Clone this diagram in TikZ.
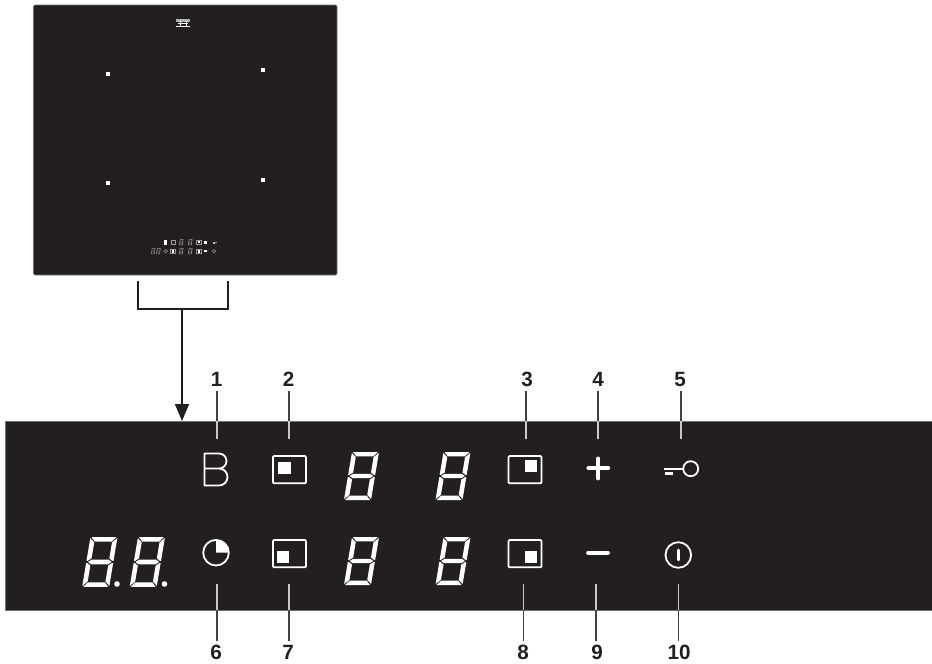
\documentclass[tikz,border=0pt]{standalone}
\usepackage{fontspec}
\setmainfont{Liberation Sans}
\usetikzlibrary{arrows.meta}
\definecolor{panelblack}{HTML}{231F20}
\definecolor{leadgray}{HTML}{C8C8C8}
\def\pxu{0.75pt}
\tikzset{
  panelbox/.style={rectangle,fill=panelblack,draw=black!55,line width=0.6pt,inner sep=0pt,outer sep=0pt},
  numlabel/.style={font=\fontsize{15.5pt}{15.5pt}\selectfont\bfseries,text=panelblack,inner sep=3pt,outer sep=0pt,anchor=base},
  leaderdark/.style={draw=panelblack!85,line width=0.9pt},
  leaderlight/.style={draw=leadgray,line width=0.9pt},
  iconline/.style={draw=white,line width=1.35pt},
  iconfill/.style={fill=white,draw=none},
  barcap/.style={draw=white,line width=2.8pt,line cap=round},
  minigray/.style={draw=white!60!black,line width=0.4pt},
  sevenseg/.pic={
    \path[pic actions] (1.0,0)--(26,0)--(22,4.4)--(5,4.4)--cycle;
    \path[pic actions] (0,1.0)--(4.6,5.2)--(4.6,20.5)--(1.0,23)--(0,23)--cycle;
    \path[pic actions] (27,1.0)--(22.4,5.2)--(22.4,20.5)--(26,23)--(27,23)--cycle;
    \path[pic actions] (1.6,24)--(5,21.8)--(22,21.8)--(25.4,24)--(22,26.2)--(5,26.2)--cycle;
    \path[pic actions] (0,25)--(1.0,25)--(4.6,27.5)--(4.6,42.8)--(0,47)--cycle;
    \path[pic actions] (27,25)--(26,25)--(22.4,27.5)--(22.4,42.8)--(27,47)--cycle;
    \path[pic actions] (5,43.6)--(22,43.6)--(26,48)--(1,48)--cycle;
  }
}
\begin{document}
\begin{tikzpicture}[x=0.75pt,y=-0.75pt]
\useasboundingbox (0,0) rectangle (932,664);
% panels
\node[panelbox,rounded corners=1pt,minimum width=303.5*\pxu,minimum height=270*\pxu] (hob) at (185.25,140) {};
\node[panelbox,minimum width=930*\pxu,minimum height=189*\pxu] (strip) at (470,515.75) {};
% hob zone marks
\foreach \x/\y in {108/74,263/70,108/183,263/180}
  \fill[white] (\x-2,\y-2) rectangle (\x+2,\y+2);
% logo
\fill[white!70!black] (176,18.5) rectangle (189.5,21.5);
\draw[white,line width=0.75pt] (178,23) -- (188,23);
\draw[white,line width=0.9pt] (176,26.5) -- (190,26.5);
\draw[white,line width=0.5pt] (180,21) -- (180,26) (186,21) -- (186,26);
% miniature controls on the hob
\fill[white] (163.5,240) rectangle (166.7,244.5);
\draw[minigray] (171,240.2) rectangle (175,244.2);
\foreach \x in {180,189}{
  \pic[fill=white!65!black,xslant=.167,scale=0.13] at (\x,239) {sevenseg};
  \pic[fill=white!65!black,xslant=.167,scale=0.13] at (\x,248) {sevenseg};
}
\draw[minigray] (196,240) rectangle (201,244.2);
\fill[white] (197.5,240.8) rectangle (199.8,243.2);
\fill[white] (204.2,240.6) rectangle (207.2,243.6);
\draw[minigray] (213,242.2) -- (217,242.2);
\fill[white!80!black] (213,243) rectangle (215,243.6);
\pic[fill=white!60!black,xslant=.167,scale=0.13] at (152,248) {sevenseg};
\pic[fill=white!60!black,xslant=.167,scale=0.13] at (157.2,248) {sevenseg};
\draw[minigray] (165.7,251.3) circle (1.8);
\draw[minigray] (170.5,249.2) rectangle (175,253.4);
\fill[white] (171.5,250) rectangle (173.8,252.6);
\draw[minigray] (196.5,249.2) rectangle (201,253.4);
\fill[white] (197.8,250) rectangle (200,252.6);
\fill[white] (204,250.4) rectangle (207.4,251.8);
\draw[minigray] (214,251.3) circle (1.8);
% bracket and arrow
\coordinate (brl) at (138,281);
\coordinate (brr) at (228,281);
\coordinate (stem) at (182,309);
\draw[draw=panelblack,line width=2.2pt] (brl) |- (stem) -| (brr);
\draw[draw=panelblack,line width=2.2pt,-{Triangle[length=12.8pt,width=10pt]}] (stem) -- (stem |- strip.north);
% labels
\foreach \nm/\t/\x in {l1/1/216.5,l2/2/288.5,l3/3/527,l4/4/598,l5/5/680}
  \node[numlabel] (\nm) at (\x,386.5) {\t};
\foreach \nm/\t/\x in {l6/6/216,l7/7/288,l8/8/523,l9/9/597,l10/10/679}
  \node[numlabel] (\nm) at (\x,659) {\t};
% leaders top
\foreach \nm/\x in {l1/217,l2/289,l3/526,l4/598,l5/681}{
  \coordinate (tip\nm) at (\x,439);
  \draw[leaderdark] (tip\nm |- \nm.south) -- (tip\nm |- strip.north);
  \draw[leaderlight] (tip\nm |- strip.north) -- (tip\nm);
}
% leaders bottom
\foreach \nm/\x in {l6/217,l7/289,l8/523.7,l9/596,l10/678.7}{
  \coordinate (tip\nm) at (\x,583.5);
  \draw[leaderlight] (tip\nm) -- (tip\nm |- strip.south);
  \draw[leaderdark] (tip\nm |- strip.south) -- (tip\nm |- \nm.north);
}
% B icon
\draw[iconline,line join=round] (204.5,468.5) -- (219,468.5) arc[start angle=90,end angle=-90,radius=7.5] -- (204.5,453.5) -- (204.5,485.5) -- (219,485.5) arc[start angle=90,end angle=-90,radius=8.5];
% zone buttons
\draw[iconline,rounded corners=0.8pt] (273,456) rectangle (306,483.3);
\fill[iconfill] (278,461.7) rectangle (291,473.7);
\draw[iconline,rounded corners=0.8pt] (273,540) rectangle (306,567.3);
\fill[iconfill] (277,551) rectangle (289,563);
\draw[iconline,rounded corners=0.8pt] (508.5,456) rectangle (541.5,483.3);
\fill[iconfill] (525,460) rectangle (537,472);
\draw[iconline,rounded corners=0.8pt] (508.5,540) rectangle (541.5,567.3);
\fill[iconfill] (525,551) rectangle (537,563);
% seven segment digits
\foreach \x/\y in {352/452,443.5/452,352/537,443.5/537}
  \pic[fill=white,xslant=.167] at (\x,\y) {sevenseg};
\pic[fill=white,xslant=.167,yscale=1.04] at (90.5,537) {sevenseg};
\pic[fill=white,xslant=.167,yscale=1.04] at (138,537) {sevenseg};
\fill[white] (117,584) circle (2.8);
\fill[white] (164.5,584) circle (2.8);
% clock
\draw[iconline] (216,552.7) circle (12.8);
\fill[iconfill] (216,552.7) -- (216,539.9) arc[start angle=-90,end angle=0,radius=12.8] -- cycle;
% plus, minus
\draw[barcap] (588.3,468.3) -- (608.3,468.3);
\draw[barcap] (598.3,458.5) -- (598.3,478.5);
\draw[barcap] (588,552.7) -- (608,552.7);
% key
\draw[iconline] (690.7,468.7) circle (7.5);
\draw[iconline] (664,468.7) -- (683.2,468.7);
\fill[iconfill] (665,471.7) rectangle (673,474.5);
% power
\draw[iconline] (678.3,555) circle (12.8);
\draw[draw=white,line width=1.9pt,line cap=round] (678.3,550) -- (678.3,560);
\end{tikzpicture}
\end{document}
